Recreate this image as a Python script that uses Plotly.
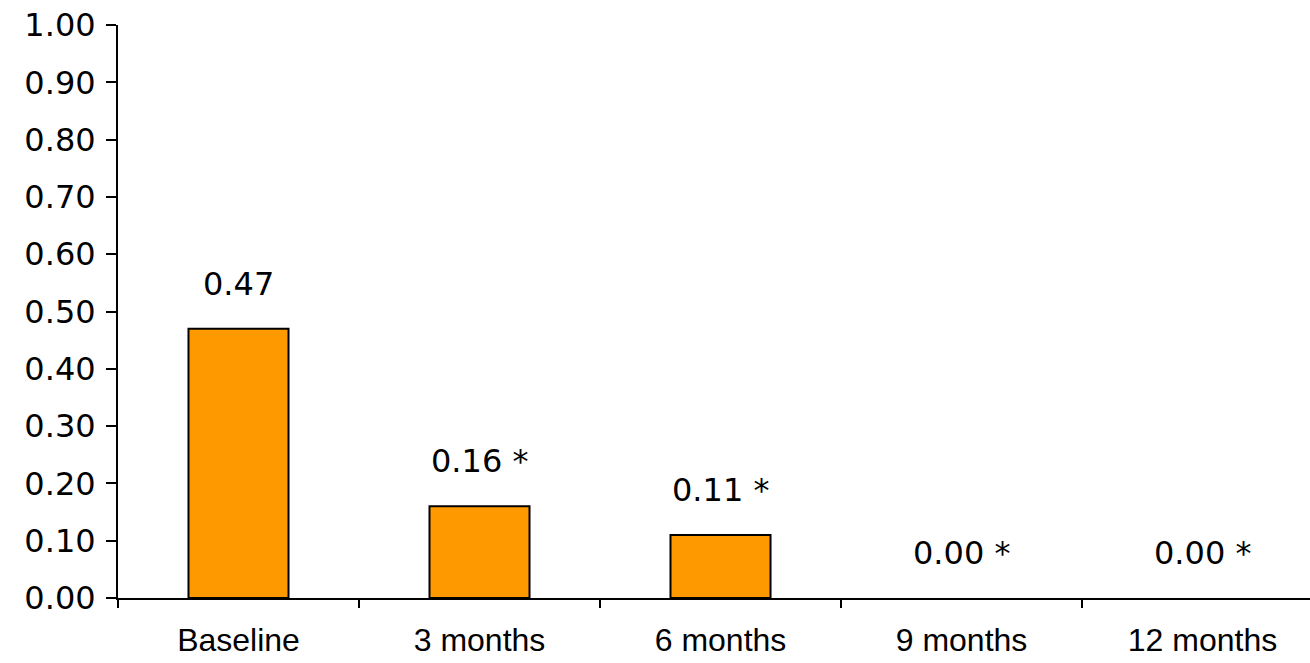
import plotly.graph_objects as go

# Mean scores by follow-up visit
categories = ["Baseline", "3 months", "6 months", "9 months", "12 months"]
values = [0.47, 0.16, 0.11, 0.00, 0.00]
significant = [False, True, True, True, True]
y_ticks = [0.0, 0.1, 0.2, 0.3, 0.4, 0.5, 0.6, 0.7, 0.8, 0.9, 1.0]

labels = [f"{v:.2f}" + (" *" if s else "") for v, s in zip(values, significant)]

fig = go.Figure()
fig.add_trace(go.Bar(
    x=categories,
    y=values,
    width=0.415,
    marker=dict(
        color="#FF9900",
        line=dict(color="black", width=[2 if v > 0 else 0 for v in values]),
    ),
    hoverinfo="skip",
))

for cat, v, txt in zip(categories, values, labels):
    fig.add_annotation(
        x=cat, y=v, text=txt, showarrow=False,
        yanchor="bottom", yshift=24,
        font=dict(family="DejaVu Sans", size=32, color="black"),
    )

fig.update_layout(
    width=1310, height=663,
    margin=dict(l=118, r=0, t=25, b=65),
    plot_bgcolor="white", paper_bgcolor="white",
    showlegend=False,
)
fig.update_xaxes(
    type="category",
    range=[-0.5, 4.446],
    automargin=False,
    showline=True, linecolor="black", linewidth=2,
    ticks="outside", tickson="boundaries", ticklen=8, tickwidth=2, tickcolor="black",
    showgrid=False,
    tickfont=dict(family="Liberation Sans", size=32, color="black"),
    ticklabelstandoff=13,
)
fig.update_yaxes(
    range=[0, 1.0],
    automargin=False,
    tickvals=y_ticks,
    ticktext=[f"{t:.2f}" for t in y_ticks],
    showline=True, linecolor="black", linewidth=2,
    ticks="outside", ticklen=10, tickwidth=2, tickcolor="black",
    showgrid=False, zeroline=False,
    tickfont=dict(family="DejaVu Sans", size=32, color="black"),
    ticklabelstandoff=4,
)

fig.write_html("out.html")
